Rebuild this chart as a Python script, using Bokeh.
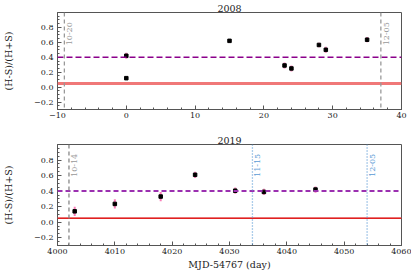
import numpy as np
from bokeh.plotting import figure
from bokeh.layouts import column
from bokeh.models import Range1d, Span, FixedTicker, CustomJSTickFormatter, ColumnDataSource, Band
from bokeh.core.properties import value
from bokeh.embed import file_html
from bokeh.resources import INLINE

# ---- data ----
x08 = [0, 0, 15, 23, 24, 28, 29, 35]
y08 = [0.42, 0.12, 0.62, 0.29, 0.25, 0.565, 0.50, 0.635]
e08 = [0.04, 0.02, 0.02, 0.04, 0.04, 0.03, 0.04, 0.035]

x19 = [4003, 4010, 4018, 4024, 4031, 4036, 4045]
y19 = [0.14, 0.235, 0.33, 0.61, 0.405, 0.39, 0.42]
e19 = [0.06, 0.06, 0.06, 0.04, 0.04, 0.04, 0.04]

hard_level = 0.40
soft_level = 0.05

vlines08 = [-9, 37]
vlab08 = ["10-20", "12-05"]
vlines19_grey = [4002]
vlab19_grey = ["10-14"]
vlines19_blue = [4034, 4054]
vlab19_blue = ["11-15", "12-05"]

yticks = [-0.2, 0.0, 0.2, 0.4, 0.6, 0.8]
yminor = [round(-0.3 + 0.05 * i, 2) for i in range(27)]
xticks08 = [-10, 0, 10, 20, 30, 40]
xminor08 = list(range(-10, 41, 2))
xticks19 = [4000, 4010, 4020, 4030, 4040, 4050, 4060]
xminor19 = list(range(4000, 4061, 2))

FONT = "DejaVu Serif"
yfmt = CustomJSTickFormatter(code="""
var s = tick.toFixed(1); if (Math.abs(tick) < 1e-9) s = '0.0';
return s.replace('-', '\u2212');
""")
xfmt = CustomJSTickFormatter(code="""
var s = tick.toFixed(0); return s.replace('-', '\u2212');
""")


def make_fig(title, xr, height, bt, bb, xticks, xminor, xlabel=None):
    p = figure(width=411, height=height, x_range=Range1d(*xr), y_range=Range1d(-0.3, 1.0),
               output_backend="svg", toolbar_location=None,
               min_border_left=52, min_border_right=10, min_border_top=bt, min_border_bottom=bb)
    p.title.text = title
    p.title.align = "center"
    p.title.text_font = FONT
    p.title.text_font_size = "9.5px"
    p.title.text_font_style = "normal"
    p.title.text_color = "#222222"
    p.title.standoff = 1
    p.grid.visible = False
    p.outline_line_color = "#555555"
    p.outline_line_width = 1
    for ax in (p.xaxis[0], p.yaxis[0]):
        ax.major_tick_in = 4
        ax.major_tick_out = 0
        ax.minor_tick_in = 2
        ax.minor_tick_out = 0
        ax.axis_line_color = "#555555"
        ax.major_tick_line_color = "#555555"
        ax.minor_tick_line_color = "#555555"
        ax.major_label_text_font = FONT
        ax.major_label_text_font_size = "8px"
        ax.major_label_text_color = "#222222"
        ax.axis_label_text_font = FONT
        ax.axis_label_text_font_style = "normal"
        ax.axis_label_text_font_size = "9.5px"
        ax.axis_label_text_color = "#222222"
    p.xaxis[0].ticker = FixedTicker(ticks=xticks, minor_ticks=xminor)
    p.yaxis[0].ticker = FixedTicker(ticks=yticks, minor_ticks=yminor)
    p.xaxis[0].formatter = xfmt
    p.yaxis[0].formatter = yfmt
    p.xaxis[0].major_label_standoff = 3
    p.yaxis[0].major_label_standoff = 4
    p.yaxis[0].axis_label = "(H-S)/(H+S)"
    p.yaxis[0].axis_label_standoff = 17
    if xlabel:
        p.xaxis[0].axis_label = xlabel
        p.xaxis[0].axis_label_standoff = 2
    return p


def vlabels(p, xs, labels, color, ypos):
    src = ColumnDataSource(dict(x=xs, y=[ypos] * len(xs), t=labels))
    p.text("x", "y", text="t", source=src, angle=np.pi / 2, text_align="right",
           text_baseline="top", x_offset=3, text_font=value(FONT), text_font_size="8px",
           text_color=color)


# ---- top panel ----
p1 = make_fig("2008", (-10, 40), 125, 12, 16, xticks08, xminor08)
p1.add_layout(Span(location=soft_level, dimension="width", line_color="#f07878", line_width=3))
p1.add_layout(Span(location=hard_level, dimension="width", line_color="#8b008b",
                   line_width=1.5, line_dash="6 3"))
for xv in vlines08:
    p1.add_layout(Span(location=xv, dimension="height", line_color="#999999",
                       line_width=1.3, line_dash="4 3"))
vlabels(p1, vlines08, vlab08, "#999999", 0.87)
s1 = ColumnDataSource(dict(x=x08, y=y08, lo=[a - b for a, b in zip(y08, e08)],
                           hi=[a + b for a, b in zip(y08, e08)]))
p1.segment("x", "lo", "x", "hi", source=s1, line_color="#f870b0", line_width=2, line_alpha=0.9)
p1.scatter("x", "y", source=s1, marker="square", size=3.5, color="black")

# ---- bottom panel ----
p2 = make_fig("2019", (4000, 4060), 147, 19, 22, xticks19, xminor19, "MJD-54767 (day)")
bsrc = ColumnDataSource(dict(x=[4000, 4060], lo=[soft_level, soft_level], hi=[soft_level + 0.015] * 2))
p2.add_layout(Band(base="x", lower="lo", upper="hi", source=bsrc, fill_color="#f4a0a0",
                   fill_alpha=0.7, line_alpha=0))
p2.add_layout(Span(location=soft_level, dimension="width", line_color="#e02020", line_width=1.5))
p2.add_layout(Span(location=hard_level, dimension="width", line_color="#9b30b0",
                   line_width=2, line_dash="5 3"))
for xv in vlines19_grey:
    p2.add_layout(Span(location=xv, dimension="height", line_color="#888888",
                       line_width=1.3, line_dash="4 3"))
for xv in vlines19_blue:
    p2.add_layout(Span(location=xv, dimension="height", line_color="#5b9bd5",
                       line_width=1.3, line_dash="1 2"))
vlabels(p2, vlines19_grey, vlab19_grey, "#999999", 0.88)
vlabels(p2, vlines19_blue, vlab19_blue, "#5b9bd5", 0.88)
s2 = ColumnDataSource(dict(x=x19, y=y19, lo=[a - b for a, b in zip(y19, e19)],
                           hi=[a + b for a, b in zip(y19, e19)]))
p2.segment("x", "lo", "x", "hi", source=s2, line_color="#f870b0", line_width=2, line_alpha=0.9)
p2.scatter("x", "y", source=s2, marker="square", size=3.5, color="black")

layout = column(p1, p2, spacing=0)
open("out.html", "w").write(file_html(layout, INLINE))
